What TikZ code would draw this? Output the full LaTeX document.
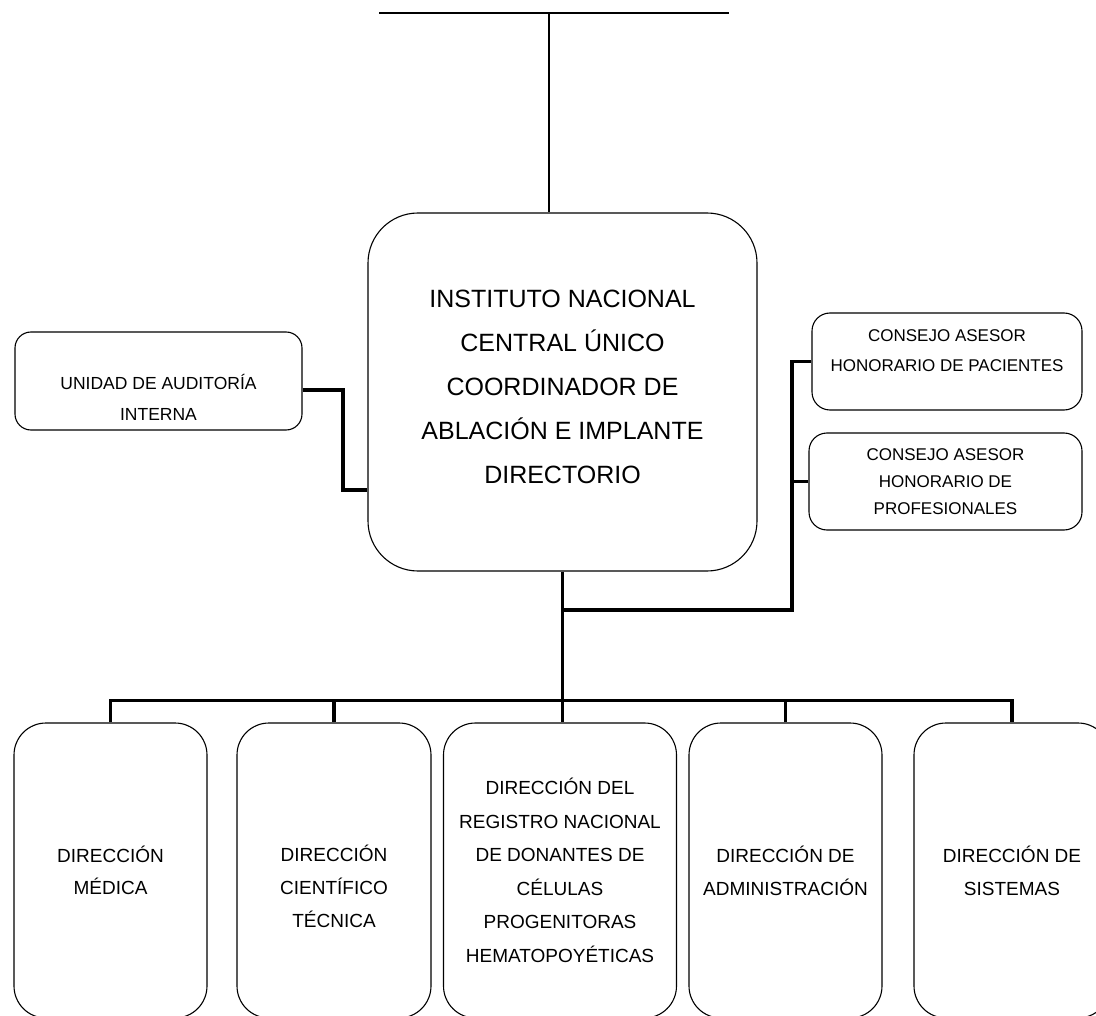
\documentclass[tikz,border=0pt]{standalone}
\usepackage{fontspec}
\setmainfont{Liberation Sans}
% struts that move a node text down (first line) or up (last line)
\newcommand{\padtop}[1]{\rule{0pt}{#1}}
\newcommand{\padbottom}[1]{\rule[-#1]{0pt}{0pt}}

\begin{document}
\begin{tikzpicture}[x=1pt,y=-1pt,
  unit/.style={draw,line width=1.1pt,rounded corners=#1,inner sep=0pt,align=center},
  link/.style={line width=3.6pt}]

\clip (0,0) rectangle (1096,1016);

\node[unit=50pt,minimum width=389pt,minimum height=358pt,
      font=\fontsize{25}{44}\selectfont](central) at (562.5,392)
  {INSTITUTO NACIONAL\\CENTRAL ÚNICO\\COORDINADOR DE\\ABLACIÓN E IMPLANTE\\DIRECTORIO\padbottom{10pt}};

\node[unit=16pt,minimum width=287pt,minimum height=98pt,
      font=\fontsize{17.5}{31}\selectfont](auditoria) at (158.5,381)
  {\padtop{48pt}UNIDAD DE AUDITORÍA\\INTERNA};

\node[unit=18pt,minimum width=270pt,minimum height=97pt,
      font=\fontsize{17}{30}\selectfont](pacientes) at (947,361.5)
  {CONSEJO ASESOR\\HONORARIO DE PACIENTES\padbottom{22pt}};
\node[unit=18pt,minimum width=273pt,minimum height=97pt,
      font=\fontsize{17}{27}\selectfont](profesionales) at (945.5,481.5)
  {CONSEJO ASESOR\\HONORARIO DE\\PROFESIONALES};

\node[unit=32pt,minimum width=193pt,minimum height=295pt,
      font=\fontsize{19}{32}\selectfont](medica) at (110.5,870.5)
  {DIRECCIÓN\\MÉDICA};
\node[unit=32pt,minimum width=194pt,minimum height=295pt,
      font=\fontsize{19}{33}\selectfont](cientifica) at (334,870.5)
  {\padtop{48pt}DIRECCIÓN\\CIENTÍFICO\\TÉCNICA};
\node[unit=32pt,minimum width=233pt,minimum height=295pt,
      font=\fontsize{19}{33.5}\selectfont](registro) at (560,870.5)
  {DIRECCIÓN DEL\\REGISTRO NACIONAL\\DE DONANTES DE\\CÉLULAS\\PROGENITORAS\\HEMATOPOYÉTICAS};
\node[unit=32pt,minimum width=193pt,minimum height=295pt,
      font=\fontsize{19}{33}\selectfont](administracion) at (785.5,870.5)
  {DIRECCIÓN DE\\ADMINISTRACIÓN};
\node[unit=32pt,minimum width=196pt,minimum height=295pt,
      font=\fontsize{19}{33}\selectfont](sistemas) at (1012,870.5)
  {DIRECCIÓN DE\\SISTEMAS};

% line above the board
\coordinate (top left) at (379,13);
\coordinate (top right) at (729,13);
\coordinate (top mid) at (549,13);
\draw[line width=1.5pt] (top left) -- (top right);
\draw[line width=1.5pt] (top mid) -- (top mid |- central.north);

% advisory units
\coordinate (audit elbow) at (343,490);
\draw[link] ([yshift=-9pt]auditoria.east) -| (audit elbow) -- (audit elbow -| central.west);

\coordinate (riser) at (792,610);
\draw[link] (central.south |- riser) -- (riser) |- (pacientes.west);
\draw[link] (profesionales.west) -- (profesionales.west -| riser);

% directions
\draw[link] (central.south) -- (central.south |- registro.north);
\draw[link] (medica.north) -- ++(0,-22) -| (sistemas.north);
\draw[link] (cientifica.north) -- ++(0,-22);
\draw[link] (administracion.north) -- ++(0,-22);

\end{tikzpicture}
\end{document}
